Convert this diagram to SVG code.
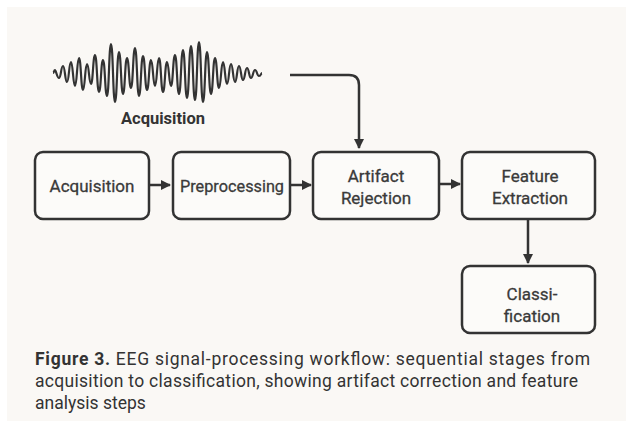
<svg xmlns="http://www.w3.org/2000/svg" width="626" height="421" viewBox="0 0 626 421">
  <style>
    .box { fill: #fcfbf9; stroke: #333; stroke-width: 2.5; }
    .lbl { font-family: Roboto, "Liberation Sans", sans-serif; font-size: 17px; font-weight: normal; fill: #3a3a3a; stroke: #3a3a3a; stroke-width: 0.3; text-anchor: middle; }
    .conn { fill: none; stroke: #333; stroke-width: 2.5; }
    .cap { font-family: Roboto, "Liberation Sans", sans-serif; font-size: 17.5px; fill: #333; }
  </style>
  <defs>
    <marker id="ah" viewBox="0 0 10 10" refX="9" refY="5" markerWidth="10" markerHeight="10" markerUnits="userSpaceOnUse" orient="auto">
      <path d="M0,0 L10,5 L0,10 z" fill="#333"/>
    </marker>
  </defs>
  <rect x="0" y="0" width="626" height="421" fill="#ffffff"/>
  <rect x="7" y="7" width="619" height="414" fill="#faf8f5"/>

  <g id="signal">
    <path fill="none" stroke="#333" stroke-width="2.2" stroke-linejoin="round" d="M53 73 C54 73 54 70 55 70 S57 78 59 78 S61 66 63 66 S65 82 67 82 S69 62 71 62 S73 86 75 86 S77 58 79 58 S81 90 83 90 S85 64 87 64 S89 84 91 84 S93 55 95 55 S97 92 99 92 S101 60 103 60 S105 96 107 96 S109 44 111 44 S113 102 115 102 S117 52 119 52 S121 94 123 94 S125 58 127 58 S129 88 131 88 S133 48 135 48 S137 96 139 96 S141 56 143 56 S145 90 147 90 S149 60 151 60 S153 86 155 86 S157 58 159 58 S161 92 163 92 S165 62 167 62 S169 86 171 86 S173 55 175 55 S177 94 179 94 S181 50 183 50 S185 98 187 98 S189 46 191 46 S193 100 195 100 S197 42 199 42 S201 102 203 102 S205 52 207 52 S209 94 211 94 S213 58 215 58 S217 88 219 88 S221 62 223 62 S225 84 227 84 S229 64 231 64 S233 82 235 82 S237 66 239 66 S241 80 243 80 S245 68 247 68 S249 78 251 78 S253 70 255 70 S257 76 259 76 S261 73 262 73"/>
    <text x="163" y="124" style="font-family: Roboto, 'Liberation Sans', sans-serif; font-weight:bold; fill:#333; font-size:16.5px; text-anchor: middle">Acquisition</text>
  </g>

  <g id="connectors">
    <path class="conn" d="M290 75 H349 Q359 75 359 85 V148" marker-end="url(#ah)"/>
    <path class="conn" d="M150 185 H170" marker-end="url(#ah)"/>
    <path class="conn" d="M290 185 H311" marker-end="url(#ah)"/>
    <path class="conn" d="M439 184 H460" marker-end="url(#ah)"/>
    <path class="conn" d="M528 219 V263" marker-end="url(#ah)"/>
  </g>

  <g id="n-acquisition">
    <rect class="box" x="35" y="152" width="114" height="67" rx="8"/>
    <text x="92" y="192" class="lbl">Acquisition</text>
  </g>
  <g id="n-preprocessing">
    <rect class="box" x="173" y="152" width="117" height="67" rx="8"/>
    <text x="232" y="192" class="lbl" textLength="104" lengthAdjust="spacingAndGlyphs">Preprocessing</text>
  </g>
  <g id="n-artifact">
    <rect class="box" x="313" y="152" width="126" height="67" rx="8"/>
    <text x="376" y="182" class="lbl">Artifact</text>
    <text x="376" y="204" class="lbl">Rejection</text>
  </g>
  <g id="n-feature">
    <rect class="box" x="462" y="152" width="133" height="67" rx="8"/>
    <text x="530" y="182" class="lbl">Feature</text>
    <text x="530" y="204" class="lbl">Extraction</text>
  </g>
  <g id="n-classification">
    <rect class="box" x="462" y="266" width="133" height="67" rx="8"/>
    <text x="532" y="300" class="lbl">Classi-</text>
    <text x="532" y="322" class="lbl">fication</text>
  </g>

  <g id="caption">
    <text x="35" y="365" class="cap" textLength="555" lengthAdjust="spacing"><tspan font-weight="bold">Figure 3.</tspan> EEG signal-processing workflow: sequential stages from</text>
    <text x="35" y="387" class="cap" textLength="543" lengthAdjust="spacing">acquisition to classification, showing artifact correction and feature</text>
    <text x="35" y="409" class="cap">analysis steps</text>
  </g>
</svg>
